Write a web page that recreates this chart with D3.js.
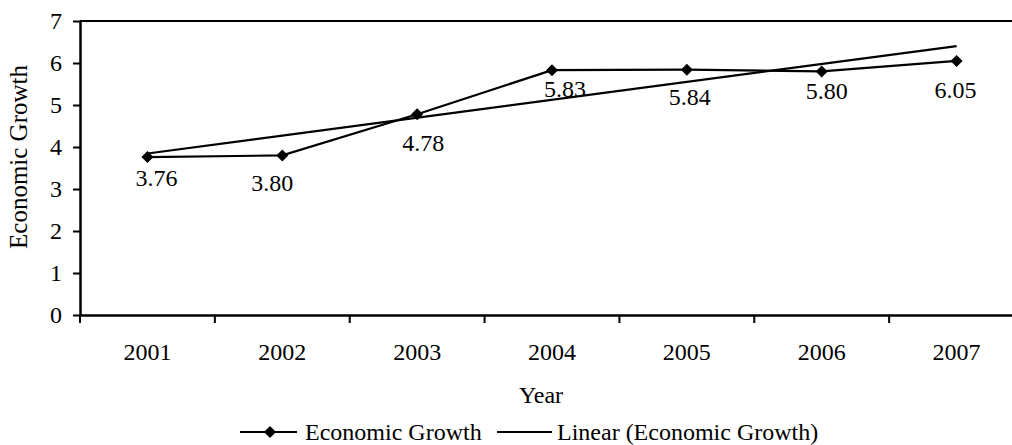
<!DOCTYPE html>
<html>
<head>
<meta charset="utf-8">
<script src="https://cdn.jsdelivr.net/npm/d3@7"></script>
<style>
    body { margin: 0; background: #fff; }
    svg text { font-family: "Liberation Serif", "Times New Roman", serif !important; fill: #000; }
</style>
</head>
<body>
<svg id="vis" width="1012" height="445" font-family="Liberation Serif"></svg>
<script>
// chart data
const years = ["2001", "2002", "2003", "2004", "2005", "2006", "2007"];
const growth = [3.76, 3.80, 4.78, 5.83, 5.84, 5.80, 6.05];
const yTicks = [0, 1, 2, 3, 4, 5, 6, 7];

// hand placed data labels (pixel nudges from each point)
const LABEL_DX = [9, -10, 6, 13, 3, 5, -1];
const LABEL_DY = [21, 27, 28, 18, 27, 19, 29];

const MARGINS = {top: 21, left: 80, bottom: 315, right: 1024};
const FONT = 24;

var svg = d3.select("#vis");

var xScale = d3.scaleBand()
    .domain(years)
    .range([MARGINS.left, MARGINS.right])
    .padding(0);
var yScale = d3.scaleLinear()
    .domain([0, 7])
    .range([MARGINS.bottom, MARGINS.top]);

function cx(d){ return xScale(d) + xScale.bandwidth() / 2; }

// plot area frame (top + right edge)
svg.append("path")
    .attr("d", `M${MARGINS.left},${MARGINS.top}H${MARGINS.right}V${MARGINS.bottom}`)
    .attr("fill", "none")
    .attr("stroke", "#000")
    .attr("stroke-width", 2);

// y axis
var yAxis = d3.axisLeft(yScale)
    .tickValues(yTicks)
    .tickFormat(d3.format("d"))
    .tickSize(7)
    .tickSizeOuter(0)
    .tickPadding(11);
var gy = svg.append("g")
    .attr("transform", `translate(${MARGINS.left},0)`)
    .call(yAxis)
    .attr("font-family", "Liberation Serif")
    .attr("font-size", FONT);
gy.select(".domain").attr("stroke-width", 2.5);
gy.selectAll(".tick line").attr("stroke-width", 2);

// x axis: labels centred in bands, ticks on band edges
var xAxis = d3.axisBottom(xScale)
    .tickSize(0)
    .tickSizeOuter(0)
    .tickPadding(28);
var gx = svg.append("g")
    .attr("transform", `translate(0,${MARGINS.bottom})`)
    .call(xAxis)
    .attr("font-family", "Liberation Serif")
    .attr("font-size", FONT);
gx.select(".domain").attr("stroke-width", 2.5);
svg.append("g").selectAll("line")
    .data(years)
    .enter()
    .append("line")
    .attr("x1", function(d){ return xScale(d); })
    .attr("x2", function(d){ return xScale(d); })
    .attr("y1", MARGINS.bottom)
    .attr("y2", MARGINS.bottom + 8)
    .attr("stroke", "#000")
    .attr("stroke-width", 2);

// axis titles
svg.append("text")
    .attr("transform", `translate(27,157) rotate(-90)`)
    .style("text-anchor", "middle")
    .style("font-size", (FONT + 1) + "px")
    .text("Economic Growth");
svg.append("text")
    .attr("x", (MARGINS.left + 1000) / 2 + 1)
    .attr("y", 403)
    .style("text-anchor", "middle")
    .style("font-size", FONT + "px")
    .text("Year");

// linear trend (least squares on index 1..n)
var n = growth.length;
var xs = growth.map(function(d, i){ return i + 1; });
var mx = d3.mean(xs), my = d3.mean(growth);
var slope = d3.sum(xs, function(x, i){ return (x - mx) * (growth[i] - my); }) /
            d3.sum(xs, function(x){ return (x - mx) * (x - mx); });
var intercept = my - slope * mx;
var trend = years.map(function(d, i){ return {year: d, v: intercept + slope * (i + 1)}; });

var line = d3.line()
    .x(function(d){ return cx(d.year); })
    .y(function(d){ return yScale(d.v); });

svg.append("path")
    .datum([trend[0], trend[n - 1]])
    .attr("d", line)
    .attr("fill", "none")
    .attr("stroke", "#000")
    .attr("stroke-width", 2.2);

var series = years.map(function(d, i){ return {year: d, v: growth[i]}; });
svg.append("path")
    .datum(series)
    .attr("d", line)
    .attr("fill", "none")
    .attr("stroke", "#000")
    .attr("stroke-width", 2.2);

var diamond = d3.symbol().type(d3.symbolSquare).size(72);
svg.append("g").selectAll("path")
    .data(series)
    .enter()
    .append("path")
    .attr("d", diamond)
    .attr("transform", function(d){ return `translate(${cx(d.year)},${yScale(d.v)}) rotate(45)`; })
    .attr("fill", "#000");

// data labels
svg.append("g").selectAll("text")
    .data(series)
    .enter()
    .append("text")
    .attr("x", function(d, i){ return cx(d.year) + LABEL_DX[i]; })
    .attr("y", function(d, i){ return yScale(d.v) + LABEL_DY[i]; })
    .attr("dy", "0.35em")
    .style("text-anchor", "middle")
    .style("font-size", FONT + "px")
    .text(function(d){ return d.v.toFixed(2); });

// legend
var leg = svg.append("g");
leg.append("line")
    .attr("x1", 240).attr("x2", 297).attr("y1", 432).attr("y2", 432)
    .attr("stroke", "#000").attr("stroke-width", 2.2);
leg.append("path")
    .attr("d", diamond)
    .attr("transform", "translate(270,432) rotate(45)");
leg.append("text")
    .attr("x", 305).attr("y", 440)
    .style("font-size", FONT + "px")
    .text("Economic Growth");
leg.append("line")
    .attr("x1", 497).attr("x2", 552).attr("y1", 432).attr("y2", 432)
    .attr("stroke", "#000").attr("stroke-width", 2.2);
leg.append("text")
    .attr("x", 557).attr("y", 440)
    .style("font-size", FONT + "px")
    .text("Linear (Economic Growth)");
</script>
</body>
</html>
